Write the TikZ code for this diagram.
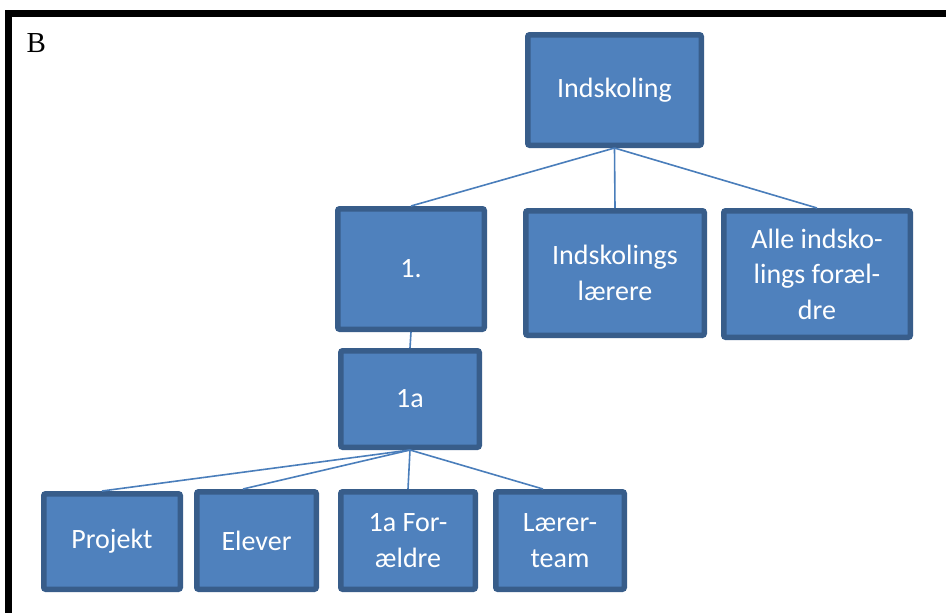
\documentclass[tikz,border=0pt]{standalone}
\usepackage{fontspec}
\setmainfont{Liberation Serif}
\newfontfamily\boxfont{Carlito}
\definecolor{boxfill}{HTML}{4F81BD}
\definecolor{boxdraw}{HTML}{385D8A}
\definecolor{linkcol}{HTML}{4A7EBB}
\tikzset{
  orgbox/.style={draw=boxdraw, fill=boxfill, line width=5.5pt, rounded corners=2pt,
    text=white, align=center, inner sep=0pt,
    font=\boxfont\fontsize{28}{35.5}\selectfont},
  link/.style={draw=linkcol, line width=1.6pt},
  frameline/.style={draw=black, line width=7pt}
}
\begin{document}
\begin{tikzpicture}[x=1pt,y=-1pt]
\useasboundingbox (0,0) rectangle (946,613);
\fill[white] (0,0) rectangle (946,613);
% frame
\coordinate (fa) at (946,13.5);
\coordinate (fb) at (8.5,13.5);
\coordinate (fc) at (8.5,613);
\draw[frameline] (fa) -- (fb) -- (fc);
\node[anchor=base west, font=\fontsize{29}{32}\selectfont, inner sep=0pt] (lab) at (26.5,52) {B};
% boxes
\node[orgbox, minimum width=173.5pt, minimum height=110.5pt] (ind) at (614.5,90) {Indskoling};
\node[orgbox, minimum width=146.5pt, minimum height=120.5pt] (one) at (411,269) {1.};
\node[orgbox, minimum width=178.5pt, minimum height=124.5pt] (laer) at (615,273) {Indskolings\\lærere};
\node[orgbox, minimum width=186.5pt, minimum height=126.5pt] (alle) at (817,274) {Alle indsko-\\lings foræl-\\dre};
\node[orgbox, minimum width=138.5pt, minimum height=96.5pt] (onea) at (410,399) {1a};
\node[orgbox, minimum width=136.5pt, minimum height=95.5pt] (proj) at (112,541.5) {Projekt};
\node[orgbox, minimum width=119.5pt, minimum height=97.5pt] (elev) at (256.5,540.5) {Elever};
\node[orgbox, minimum width=134.5pt, minimum height=97.5pt] (foraeld) at (408,540.5) {1a For-\\ældre};
\node[orgbox, minimum width=128.5pt, minimum height=97.5pt] (team) at (560,540.5) {Lærer-\\team};
% connectors
\draw[link] (ind.south) -- (one.north);
\draw[link] (ind.south) -- (laer.north);
\draw[link] (ind.south) -- (alle.north);
\draw[link] (one.south) -- (onea.north);
\draw[link] (onea.south) -- ([xshift=-10pt]proj.north);
\draw[link] (onea.south) -- ([xshift=-13.5pt]elev.north);
\draw[link] (onea.south) -- (foraeld.north);
\draw[link] (onea.south) -- ([xshift=-17pt]team.north);
\end{tikzpicture}
\end{document}
